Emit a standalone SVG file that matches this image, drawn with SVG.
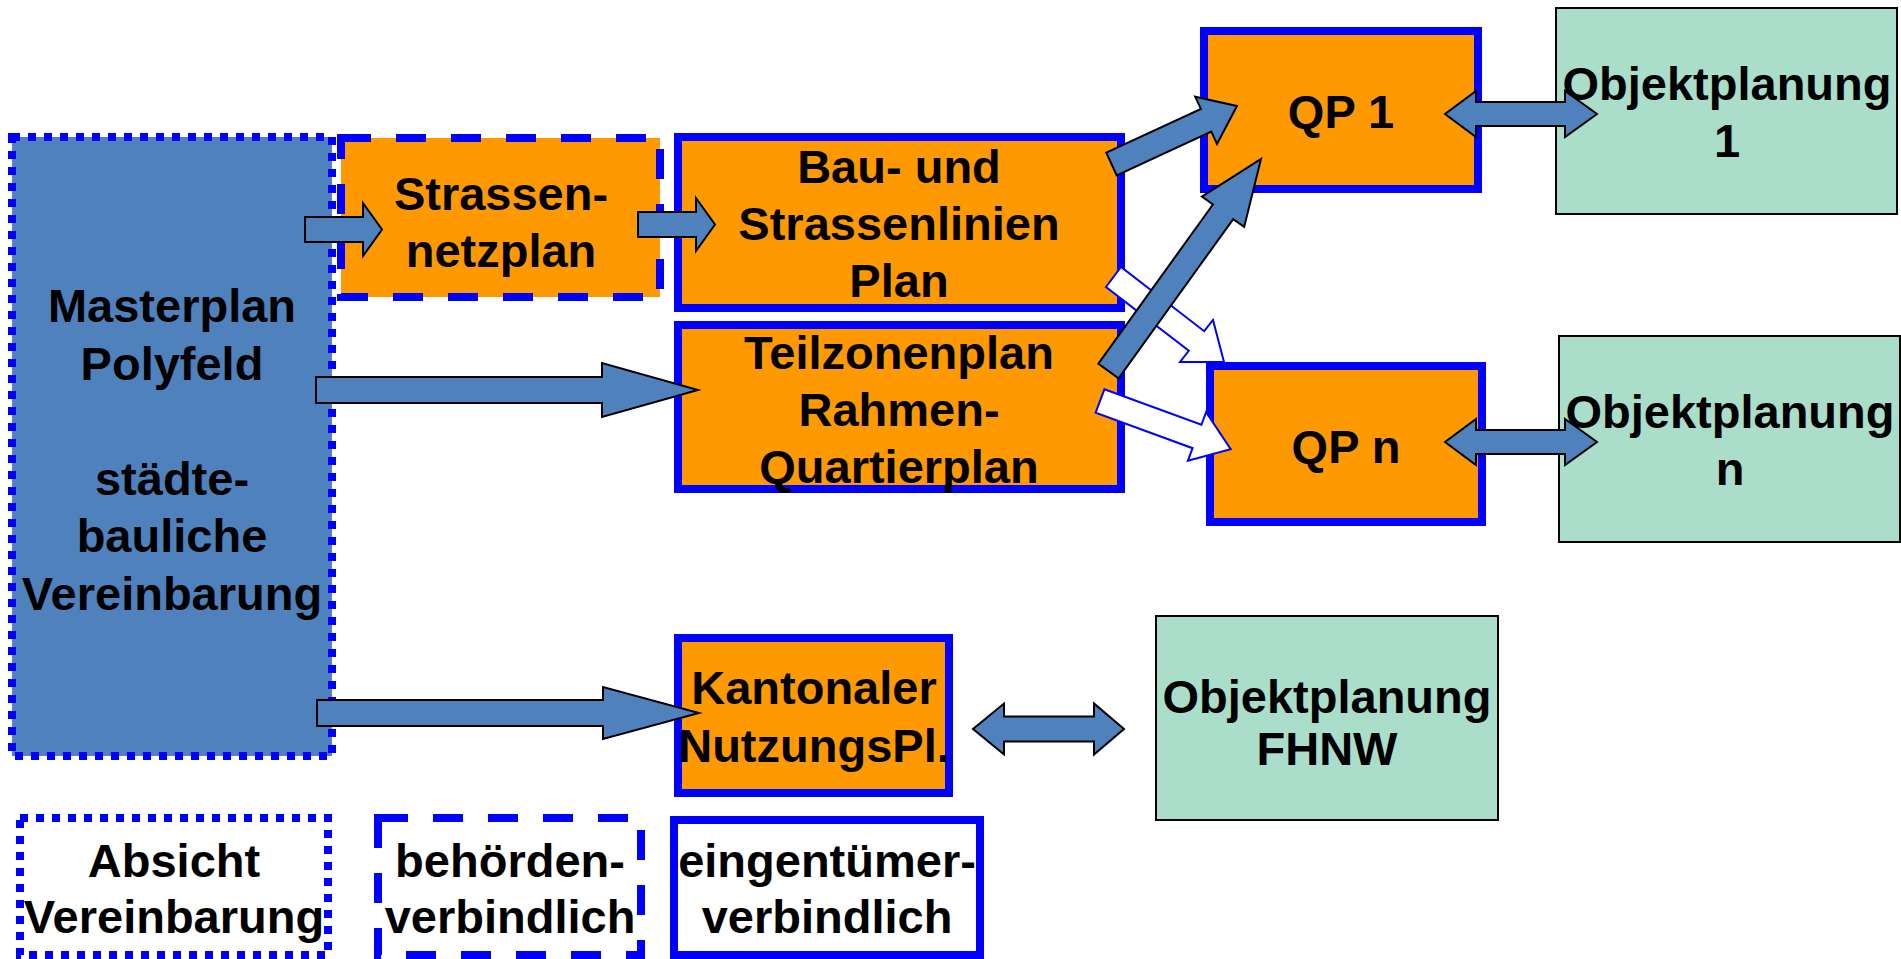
<svg xmlns="http://www.w3.org/2000/svg" width="1901" height="959" viewBox="0 0 1901 959">
<style>
text{font-family:"Liberation Sans",Arial,sans-serif;font-weight:bold;font-size:47px;fill:#000;text-anchor:middle}
.master{fill:#4F81BD;stroke:#0000FF;stroke-width:8;stroke-dasharray:8 8}
.dotted{fill:#FFFFFF;stroke:#0000FF;stroke-width:8;stroke-dasharray:8 8}
.dashed{fill:#FF9900;stroke:#0000FF;stroke-width:8;stroke-dasharray:30 25}
.dashedw{fill:#FFFFFF;stroke:#0000FF;stroke-width:8;stroke-dasharray:30 25}
.solid{fill:#FF9900;stroke:#0000FF;stroke-width:8}
.solidw{fill:#FFFFFF;stroke:#0000FF;stroke-width:8}
.green{fill:#AADDCA;stroke:#000;stroke-width:2}
.arr{fill:#4F81BD;stroke:#000;stroke-width:2;stroke-linejoin:miter}
.oarr{fill:#FFFFFF;stroke:#0000FF;stroke-width:2}
</style>
<rect width="1901" height="959" fill="#FFFFFF"/>
<g id="masterplan">
<rect class="master" x="12" y="137" width="320" height="619"/>
<text x="172" y="322">Masterplan</text>
<text x="172" y="380">Polyfeld</text>
<text x="172" y="495">städte-</text>
<text x="172" y="552">bauliche</text>
<text x="172" y="610">Vereinbarung</text>
</g>
<g id="strassennetzplan">
<rect class="dashed" x="341" y="138" width="319" height="159"/>
<text x="501" y="210">Strassen-</text>
<text x="501" y="267">netzplan</text>
</g>
<g id="bau-strassenlinien">
<rect class="solid" x="678" y="137" width="443" height="171"/>
<text x="899" y="183">Bau- und</text>
<text x="899" y="240">Strassenlinien</text>
<text x="899" y="297">Plan</text>
</g>
<g id="teilzonenplan">
<rect class="solid" x="678" y="325" width="443" height="164"/>
<text x="899" y="369">Teilzonenplan</text>
<text x="899" y="426">Rahmen-</text>
<text x="899" y="483">Quartierplan</text>
</g>
<g id="qp1">
<rect class="solid" x="1204" y="31" width="274" height="158"/>
<text x="1341" y="128">QP 1</text>
</g>
<g id="qpn">
<rect class="solid" x="1210" y="366" width="272" height="156"/>
<text x="1346" y="463">QP n</text>
</g>
<g id="objektplanung1">
<rect class="green" x="1556" y="8" width="341" height="206"/>
<text x="1727" y="100">Objektplanung</text>
<text x="1727" y="157">1</text>
</g>
<g id="objektplanungn">
<rect class="green" x="1559" y="336" width="341" height="206"/>
<text x="1730" y="428">Objektplanung</text>
<text x="1730" y="485">n</text>
</g>
<g id="kantonaler">
<rect class="solid" x="678" y="638" width="271" height="155"/>
<text x="814" y="704">Kantonaler</text>
<text x="814" y="762">NutzungsPl.</text>
</g>
<g id="objektplanungfhnw">
<rect class="green" x="1156" y="616" width="342" height="204"/>
<text x="1327" y="713">Objektplanung</text>
<text x="1327" y="765">FHNW</text>
</g>
<g id="legend-absicht">
<rect class="dotted" x="20" y="818" width="308" height="137"/>
<text x="174" y="877">Absicht</text>
<text x="174" y="933">Vereinbarung</text>
</g>
<g id="legend-behoerden">
<rect class="dashedw" x="378" y="818" width="263" height="137"/>
<text x="510" y="877">behörden-</text>
<text x="510" y="933">verbindlich</text>
</g>
<g id="legend-eigentuemer">
<rect class="solidw" x="674" y="820" width="306" height="135"/>
<text x="827" y="877">eingentümer-</text>
<text x="827" y="933">verbindlich</text>
</g>
<g id="connectors">
<polygon class="arr" points="305,217 363,217 363,203 382,229.5 363,256 363,242 305,242"/>
<polygon class="arr" points="638,212 696,212 696,198 715,224.5 696,251 696,237 638,237"/>
<polygon class="arr" points="316,377 602,377 602,363 698,390 602,417 602,403 316,403"/>
<polygon class="arr" points="317,700 603,700 603,687 699,713 603,739 603,726 317,726"/>
<polygon class="arr" points="973,729 1004,703.5 1004,716.5 1094,716.5 1094,703.5 1124,729 1094,754.5 1094,741.5 1004,741.5 1004,754.5"/>
<polygon class="arr" points="1445,114 1476,91 1476,102 1565,102 1565,91 1597,114 1565,137 1565,126 1476,126 1476,137"/>
<polygon class="arr" points="1445,442 1476,419 1476,430 1565,430 1565,419 1597,442 1565,465 1565,454 1476,454 1476,465"/>
<polygon class="oarr" points="1106,287 1121,267 1204.2,331.2 1213,320 1224,362 1180,362 1188.8,350.8"/>
<polygon class="oarr" points="1104.4,389.3 1201.4,424.8 1206.1,412.2 1230.7,449.1 1187.9,460.8 1192.6,448.2 1095.6,412.7"/>
<polygon class="arr" points="1106.3,152.7 1200.9,108.9 1195.2,96.7 1237,106 1217,143.9 1211.3,131.6 1116.7,175.3"/>
<polygon class="arr" points="1098.4,363.7 1212.9,204.5 1201.9,196.6 1261,159 1244.2,226.9 1233.2,219.1 1118.6,378.3"/>
</g>
</svg>
